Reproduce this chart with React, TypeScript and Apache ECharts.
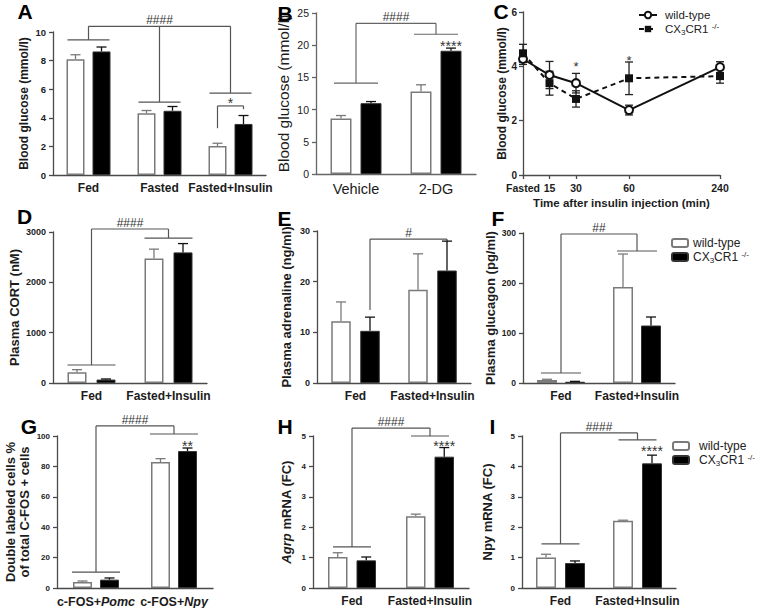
import React, { useEffect, useRef } from 'react';
import * as echarts from 'echarts';

// ---------------- data ----------------
// A
const catsA = ['Fed', 'Fasted', 'Fasted+Insulin'];
const wtA = [8.1, 4.32, 2.03];
const wtErrA = [0.31, 0.19, 0.19];
const koA = [8.64, 4.49, 3.57];
const koErrA = [0.31, 0.3, 0.59];
// B
const catsB = ['Vehicle', '2-DG'];
const wtB = [8.6, 12.8];
const wtErrB = [0.48, 1.05];
const koB = [11.0, 19.14];
const koErrB = [0.25, 0.41];
// C
const timeLabels = ['Fasted', '15', '30', '60', '240'];
const timeMinutes = [0, 15, 30, 60, 240];
const wtC = [4.27, 3.68, 3.38, 2.39, 3.97];
const wtErrC = [0.2, 0.5, 0.36, 0.18, 0.2];
const koC = [4.48, 3.38, 2.8, 3.56, 3.64];
const koErrC = [0.33, 0.44, 0.3, 0.6, 0.26];
// D-F, H, I
const catsFI = ['Fed', 'Fasted+Insulin'];
const wtD = [215, 2475];
const wtErrD = [50, 185];
const koD = [68, 2595];
const koErrD = [12, 175];
const wtE = [12.2, 18.4];
const wtErrE = [3.8, 7.1];
const koE = [10.3, 22.2];
const koErrE = [2.7, 5.8];
const wtF = [6, 192];
const wtErrF = [1.5, 66];
const koF = [2.5, 115];
const koErrF = [0.8, 17];
// G
const catsG = ['c-FOS+Pomc', 'c-FOS+Npy'];
const wtG = [4.0, 82.9];
const wtErrG = [0.6, 2.2];
const koG = [5.5, 90.1];
const koErrG = [1.1, 2.0];
// H, I
const wtH = [1.02, 2.36];
const wtErrH = [0.14, 0.07];
const koH = [0.91, 4.32];
const koErrH = [0.11, 0.3];
const wtI = [1.0, 2.21];
const wtErrI = [0.11, 0.02];
const koI = [0.82, 4.1];
const koErrI = [0.07, 0.27];

// significance annotations: drops = [category, bar (-1 group, 0 wild-type, 1 CX3CR1), lower end]
const bracketsA = [
  { label: '####', top: 10.4, drops: [[0, -1, 9.45], [1, -1, 5.1], [2, -1, 5.73]] },
  { label: '*', top: 4.83, drops: [[2, 0, 3.27], [2, 1, 4.6]] },
];
const groupsA = [[0, 9.45], [1, 5.1], [2, 5.73]];
const bracketsB = [{ label: '####', top: 23.4, drops: [[0, -1, 14.1], [1, -1, 21.7]] }];
const groupsB = [[0, 14.1], [1, 21.7]];
const starsB = [[1, 1, 20.3, '****']];
const starsC = [[30, 4.12, '*'], [60, 4.34, '*']];
const bracketsD = [{ label: '####', top: 3060, drops: [[0, -1, 358], [1, -1, 2880]] }];
const groupsD = [[0, 358], [1, 2880]];
const bracketsE = [{ label: '#', top: 28.4, drops: [[0, 1, 14.4], [1, 1, 27.8]] }];
const bracketsF = [{ label: '##', top: 298, drops: [[0, -1, 20], [1, -1, 264]] }];
const groupsF = [[0, 20], [1, 264]];
const bracketsG = [{ label: '####', top: 106.6, drops: [[0, -1, 10.5], [1, -1, 101.3]] }];
const groupsG = [[0, 10.5], [1, 101.3]];
const starsG = [[1, 1, 95.4, '**']];
const bracketsH = [{ label: '####', top: 5.26, drops: [[0, -1, 1.35], [1, -1, 5.0]] }];
const groupsH = [[0, 1.35], [1, 5.0]];
const starsH = [[1, 1, 4.77, '****']];
const bracketsI = [{ label: '####', top: 5.1, drops: [[0, -1, 1.45], [1, -1, 4.87]] }];
const groupsI = [[0, 1.45], [1, 4.87]];
const starsI = [[1, 1, 4.6, '****']];

// C uses a compressed segment after 60 min
const BREAK_AT = 60;
const COMPRESS = 0.286;
const toAxis = (t: number) => (t <= BREAK_AT ? t : BREAK_AT + (t - BREAK_AT) * COMPRESS);

// ---------------- styles / layout ----------------
const FONT = 'Arial, "Liberation Sans", Helvetica, sans-serif';
const INK = '#1c1c1c';
const AXIS = '#4a4a4a';
const LINE = '#555';
const WT_BORDER = '#7a7a7a';

type Layout = {
  letter: string; lx: number; ly: number;
  grid: { left: number; top: number; width: number; height: number };
  max: number; interval: number; barWidth: number; gapPx: number; groupHalf: number;
  catFont: number; catWeight: any; yFont: number; yWeight: any;
  name: string; nameFont: number; nameWeight: any; nameGap: number;
  cap: number; color?: string;
};

const baseL = { catFont: 12, catWeight: 'bold', yFont: 9, yWeight: 'bold', nameFont: 13, nameWeight: 'bold', cap: 5 };

const barPanels: any[] = [
  { cats: catsA, wt: wtA, wtErr: wtErrA, ko: koA, koErr: koErrA, brackets: bracketsA, groups: groupsA, stars: [],
    L: { ...baseL, letter: 'A', lx: 25, ly: 11.5, grid: { left: 53, top: 32, width: 213, height: 143 }, max: 10, interval: 2,
      barWidth: 18, gapPx: 8, groupHalf: 21, yFont: 9.5, name: '{b|Blood glucose (mmol/l)}', nameFont: 12, nameGap: 20 } },
  { cats: catsB, wt: wtB, wtErr: wtErrB, ko: koB, koErr: koErrB, brackets: bracketsB, groups: groupsB, stars: starsB,
    L: { ...baseL, letter: 'B', lx: 285, ly: 13.5, grid: { left: 316, top: 13, width: 160, height: 161 }, max: 25, interval: 5,
      barWidth: 21, gapPx: 9, groupHalf: 22, catFont: 14.5, catWeight: 'normal', yFont: 10.5, yWeight: 'normal',
      name: '{b|Blood glucose (mmol/l)}', nameFont: 15.5, nameWeight: 'normal', nameGap: 25, color: '#666' } },
  { cats: catsFI, wt: wtD, wtErr: wtErrD, ko: koD, koErr: koErrD, brackets: bracketsD, groups: groupsD, stars: [],
    L: { ...baseL, letter: 'D', lx: 24.5, ly: 216.5, grid: { left: 53, top: 232, width: 154, height: 151 }, max: 3000, interval: 1000,
      barWidth: 19, gapPx: 10, groupHalf: 24, name: '{b|Plasma CORT (nM)}', nameGap: 28 } },
  { cats: catsFI, wt: wtE, wtErr: wtErrE, ko: koE, koErr: koErrE, brackets: bracketsE, groups: [], stars: [],
    L: { ...baseL, letter: 'E', lx: 284.5, ly: 218, grid: { left: 317, top: 231, width: 154, height: 152 }, max: 30, interval: 10,
      barWidth: 19.5, gapPx: 9.5, groupHalf: 22, name: '{b|Plasma adrenaline (ng/ml)}', nameGap: 23 } },
  { cats: catsFI, wt: wtF, wtErr: wtErrF, ko: koF, koErr: koErrF, brackets: bracketsF, groups: groupsF, stars: [],
    L: { ...baseL, letter: 'F', lx: 498, ly: 218, grid: { left: 523, top: 233, width: 152, height: 150 }, max: 300, interval: 100,
      barWidth: 20, gapPx: 8, groupHalf: 20, yFont: 8.5, name: '{b|Plasma glucagon (pg/ml)}', nameGap: 24 } },
  { cats: catsG, wt: wtG, wtErr: wtErrG, ko: koG, koErr: koErrG, brackets: bracketsG, groups: groupsG, stars: starsG,
    L: { ...baseL, letter: 'G', lx: 29, ly: 426, grid: { left: 57, top: 436, width: 156, height: 152 }, max: 100, interval: 20,
      barWidth: 19, gapPx: 8, groupHalf: 24, catFont: 12.5, yFont: 8, name: '{b|Double labeled cells %}\n{b|of total C-FOS + cells}', nameGap: 25 } },
  { cats: catsFI, wt: wtH, wtErr: wtErrH, ko: koH, koErr: koErrH, brackets: bracketsH, groups: groupsH, stars: starsH,
    L: { ...baseL, letter: 'H', lx: 285, ly: 426, grid: { left: 313, top: 436, width: 156, height: 152 }, max: 5, interval: 1,
      barWidth: 19.5, gapPx: 9, groupHalf: 19, yFont: 8, name: '{i|Agrp}{b| mRNA (FC)}', nameGap: 19 } },
  { cats: catsFI, wt: wtI, wtErr: wtErrI, ko: koI, koErr: koErrI, brackets: bracketsI, groups: groupsI, stars: starsI,
    L: { ...baseL, letter: 'I', lx: 492.5, ly: 426, grid: { left: 522, top: 436, width: 154, height: 152 }, max: 5, interval: 1,
      barWidth: 20, gapPx: 9, groupHalf: 19, yFont: 8, name: '{b|Npy mRNA (FC)}', nameGap: 27 } },
];

const C_GRID = { left: 523, top: 12, width: 197, height: 163 };

const legendNames: Record<string, string> = {
  'wt-line': 'wild-type',
  'ko-line': 'CX{sub|3}CR1 {sup|-/-}',
  'wild-type': 'wild-type',
  'CX3CR1': 'CX{sub|3}CR1 {sup|-/-}',
};

function errSeries(gi: number, data: number[][], offset: number, color: string, cap: number, both: boolean) {
  return {
    type: 'custom',
    xAxisIndex: gi,
    yAxisIndex: gi,
    z: 5,
    silent: true,
    encode: { x: 0, y: 1 },
    data,
    renderItem: (_p: any, api: any) => {
      const xv = api.value(0);
      const v = api.value(1);
      const e = api.value(2);
      const p = api.coord([xv, v]);
      const hi = api.coord([xv, v + e]);
      const lo = api.coord([xv, v - e]);
      const x = p[0] + offset;
      const style = { stroke: color, lineWidth: 1.3 };
      const children: any[] = [
        { type: 'line', shape: { x1: x, y1: both ? lo[1] : p[1], x2: x, y2: hi[1] }, style },
        { type: 'line', shape: { x1: x - cap, y1: hi[1], x2: x + cap, y2: hi[1] }, style },
      ];
      if (both) children.push({ type: 'line', shape: { x1: x - cap, y1: lo[1], x2: x + cap, y2: lo[1] }, style });
      return { type: 'group', children };
    },
  };
}

function buildOption() {
  const grid: any[] = [];
  const xAxis: any[] = [];
  const yAxis: any[] = [];
  const series: any[] = [];

  barPanels.forEach((p, gi) => {
    const L: Layout = p.L;
    const axisColor = L.color || AXIS;
    grid.push({ ...L.grid, containLabel: false });
    xAxis.push({
      type: 'category', gridIndex: gi, data: p.cats,
      axisLine: { lineStyle: { color: axisColor, width: 1.3 } },
      axisTick: { alignWithLabel: true, length: 4, lineStyle: { color: axisColor, width: 1.3 } },
      axisLabel: {
        interval: 0, margin: 7, color: INK, fontFamily: FONT, fontSize: L.catFont, fontWeight: L.catWeight,
        formatter: (v: string) => v.replace(/(Pomc|Npy)$/, '{i|$1}'),
        rich: { i: { fontStyle: 'italic', fontWeight: L.catWeight, fontSize: L.catFont, fontFamily: FONT, color: INK } },
      },
    });
    const nameStyle = { fontWeight: L.nameWeight, fontSize: L.nameFont, fontFamily: FONT, color: INK, lineHeight: 14.5 };
    yAxis.push({
      type: 'value', gridIndex: gi, min: 0, max: L.max, interval: L.interval,
      axisLine: { show: true, lineStyle: { color: axisColor, width: 1.3 } },
      axisTick: { show: true, length: 4, lineStyle: { color: axisColor, width: 1.3 } },
      splitLine: { show: false },
      axisLabel: {
        margin: 7, color: INK, fontFamily: FONT, fontSize: L.yFont, fontWeight: L.yWeight,
        formatter: (v: number) => String(v),
      },
      name: L.name, nameLocation: 'middle', nameGap: L.nameGap,
      nameTextStyle: {
        ...nameStyle,
        rich: { i: { ...nameStyle, fontStyle: 'italic' }, b: { ...nameStyle } },
      },
    });
    const gap = `${(L.gapPx / L.barWidth) * 100}%`;
    series.push({
      type: 'bar', name: 'wild-type', xAxisIndex: gi, yAxisIndex: gi, data: p.wt, barWidth: L.barWidth, barGap: gap,
      itemStyle: { color: '#ffffff', borderColor: WT_BORDER, borderWidth: 1.5 },
    });
    series.push({
      type: 'bar', name: 'CX3CR1', xAxisIndex: gi, yAxisIndex: gi, data: p.ko, barWidth: L.barWidth, barGap: gap,
      itemStyle: { color: '#000000', borderColor: '#333', borderWidth: 1 },
    });
    const off = (L.barWidth + L.gapPx) / 2;
    series.push(errSeries(gi, p.wt.map((v: number, i: number) => [i, v, p.wtErr[i]]), -off, WT_BORDER, L.cap, false));
    series.push(errSeries(gi, p.ko.map((v: number, i: number) => [i, v, p.koErr[i]]), off, '#111', L.cap, false));
  });

  // panel C
  const cIdx = barPanels.length;
  const cPos = timeMinutes.map(toAxis);
  grid.push({ ...C_GRID, containLabel: false });
  xAxis.push({
    type: 'value', gridIndex: cIdx, min: 0, max: toAxis(240),
    axisLine: { lineStyle: { color: AXIS, width: 1.3 } },
    axisTick: { show: true, length: 4, customValues: cPos, lineStyle: { color: AXIS, width: 1.3 } },
    splitLine: { show: false },
    axisLabel: {
      customValues: cPos, margin: 7, color: INK, fontFamily: FONT, fontSize: 10.5, fontWeight: 'bold',
      formatter: (v: number) => {
        const k = cPos.findIndex((q) => Math.abs(q - v) < 1e-6);
        return k >= 0 ? timeLabels[k] : '';
      },
    },
    name: 'Time after insulin injection (min)', nameLocation: 'middle', nameGap: 22,
    nameTextStyle: { color: INK, fontFamily: FONT, fontSize: 11.5, fontWeight: 'bold' },
  });
  yAxis.push({
    type: 'value', gridIndex: cIdx, min: 0, max: 6, interval: 2,
    axisLine: { show: true, lineStyle: { color: AXIS, width: 1.3 } },
    axisTick: { show: true, length: 4, lineStyle: { color: AXIS, width: 1.3 } },
    splitLine: { show: false },
    axisLabel: { margin: 6, color: INK, fontFamily: FONT, fontSize: 10, fontWeight: 'bold' },
    name: 'Blood glucose (mmol/l)', nameLocation: 'middle', nameGap: 14,
    nameTextStyle: { color: INK, fontFamily: FONT, fontSize: 12, fontWeight: 'bold' },
  });
  series.push(errSeries(cIdx, cPos.map((x, i) => [x, wtC[i], wtErrC[i]]), 0, '#222', 4, true));
  series.push(errSeries(cIdx, cPos.map((x, i) => [x, koC[i], koErrC[i]]), 0, '#222', 4, true));
  series.push({
    type: 'line', name: 'wt-line', xAxisIndex: cIdx, yAxisIndex: cIdx, z: 6,
    data: cPos.map((x, i) => [x, wtC[i]]),
    symbol: 'circle', symbolSize: 8,
    lineStyle: { color: '#111', width: 2 },
    itemStyle: { color: '#ffffff', borderColor: '#111', borderWidth: 2 },
  });
  series.push({
    type: 'line', name: 'ko-line', xAxisIndex: cIdx, yAxisIndex: cIdx, z: 6,
    data: cPos.map((x, i) => [x, koC[i]]),
    symbol: 'rect', symbolSize: 8,
    lineStyle: { color: '#111', width: 2, type: [5, 4] },
    itemStyle: { color: '#111' },
  });

  const legendText = {
    color: '#222', fontFamily: FONT, fontSize: 12, lineHeight: 14,
    rich: {
      sub: { fontSize: 8, fontFamily: FONT, color: '#222', verticalAlign: 'bottom', lineHeight: 14 },
      sup: { fontSize: 8, fontFamily: FONT, color: '#222', verticalAlign: 'top', lineHeight: 14 },
    },
  };
  const legend = [
    { data: ['wt-line', 'ko-line'], orient: 'vertical', left: 638, top: 8, padding: 0, itemGap: 0, itemWidth: 18, itemHeight: 8,
      selectedMode: false, formatter: (n: string) => legendNames[n], textStyle: { ...legendText, fontSize: 11.5, padding: [0, 0, 0, 3] } },
    { data: ['wild-type', 'CX3CR1'], orient: 'vertical', left: 671, top: 236, padding: 0, itemGap: 0, itemWidth: 16, itemHeight: 8,
      selectedMode: false, formatter: (n: string) => legendNames[n], textStyle: { ...legendText, padding: [0, 0, 0, 0] } },
    { data: ['wild-type', 'CX3CR1'], orient: 'vertical', left: 672, top: 439, padding: 0, itemGap: 0, itemWidth: 16, itemHeight: 8,
      selectedMode: false, formatter: (n: string) => legendNames[n], textStyle: { ...legendText, padding: [0, 0, 0, 5] } },
  ];

  return {
    animation: false,
    backgroundColor: '#ffffff',
    textStyle: { fontFamily: FONT },
    grid, xAxis, yAxis, series, legend,
  };
}

function buildGraphic(chart: any) {
  const g: any[] = [];
  const txt = (text: string, x: number, y: number, fontSize: number, fill: string, weight: any = 'normal') => ({
    type: 'text', x, y, silent: true,
    style: { text, fontSize, fontWeight: weight, fontFamily: FONT, fill, align: 'center', verticalAlign: 'middle' },
  });
  const ln = (x1: number, y1: number, x2: number, y2: number, stroke = LINE) => ({
    type: 'line', silent: true, shape: { x1, y1, x2, y2 }, style: { stroke, lineWidth: 1.2 },
  });

  barPanels.forEach((p, gi) => {
    const L: Layout = p.L;
    const off = (L.barWidth + L.gapPx) / 2;
    const xOf = (c: number, b: number) => chart.convertToPixel({ gridIndex: gi }, [c, 0])[0] + (b < 0 ? 0 : b === 0 ? -off : off);
    const yOf = (v: number) => chart.convertToPixel({ gridIndex: gi }, [0, v])[1];
    const col = L.color || LINE;
    p.brackets.forEach((br: any) => {
      const yt = yOf(br.top);
      const xs = br.drops.map((d: number[]) => xOf(d[0], d[1]));
      g.push(ln(xs[0], yt, xs[xs.length - 1], yt, col));
      br.drops.forEach((d: number[], k: number) => g.push(ln(xs[k], yt, xs[k], yOf(d[2]), col)));
      const isStar = br.label.indexOf('*') >= 0;
      g.push(txt(br.label, (xs[0] + xs[xs.length - 1]) / 2, yt - 6 + (isStar ? 3 : 0), isStar ? 14 : 12, '#333'));
    });
    p.groups.forEach((gr: number[]) => {
      const x = xOf(gr[0], -1);
      const y = yOf(gr[1]);
      g.push(ln(x - L.groupHalf, y, x + L.groupHalf, y, col));
    });
    p.stars.forEach((s: any[]) => {
      g.push(txt(s[3], xOf(s[0], s[1]), yOf(s[2]) + 3, 14, '#333'));
    });
    g.push(txt(L.letter, L.lx, L.ly, 21, '#000', 'bold'));
  });

  const cIdx = barPanels.length;
  starsC.forEach((s: any[]) => {
    const pt = chart.convertToPixel({ gridIndex: cIdx }, [toAxis(s[0]), s[1]]);
    g.push(txt(s[2], pt[0], pt[1] + 3, 13, '#333'));
  });
  g.push(txt('C', 501, 11.5, 21, '#000', 'bold'));
  return g;
}

export default function App() {
  const ref = useRef<HTMLDivElement>(null);
  useEffect(() => {
    if (!ref.current) return;
    const chart = echarts.init(ref.current, null, { renderer: 'svg' });
    chart.setOption(buildOption() as any);
    chart.setOption({ graphic: buildGraphic(chart) } as any);
    return () => chart.dispose();
  }, []);
  return (
    <div
      ref={ref}
      style={{ position: 'fixed', left: 0, top: 0, width: 758, height: 608, background: '#fff' }}
    />
  );
}
